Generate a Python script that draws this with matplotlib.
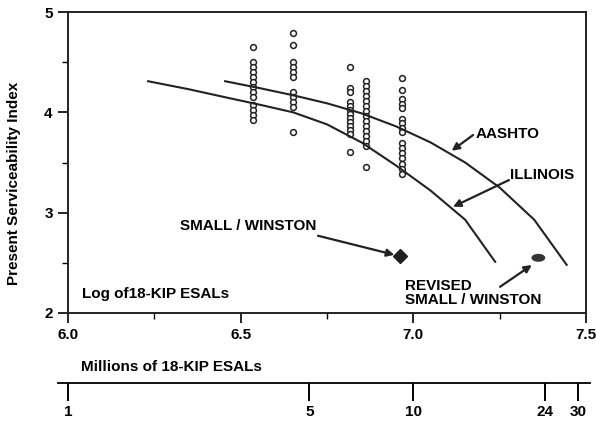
import matplotlib as m
m.use("Agg")
import matplotlib.pyplot as plt
from matplotlib.patches import Ellipse

plt.rcParams['font.family'] = ['Liberation Sans', 'DejaVu Sans']
plt.rcParams['font.weight'] = 'bold'
plt.rcParams['axes.labelweight'] = 'bold'
plt.rcParams['font.size'] = 11

# log10 of 18-KIP ESALs for each column of field measurements
col_x = [6.536, 6.652, 6.817, 6.864, 6.968]
col_psi = [
    [4.65, 4.50, 4.45, 4.40, 4.35, 4.30, 4.25, 4.20, 4.15, 4.07, 4.02, 3.97, 3.92],
    [4.79, 4.67, 4.50, 4.45, 4.40, 4.35, 4.20, 4.15, 4.10, 4.05, 3.80],
    [4.45, 4.24, 4.20, 4.10, 4.06, 4.02, 3.98, 3.94, 3.90, 3.86, 3.82, 3.78, 3.60],
    [4.31, 4.26, 4.21, 4.16, 4.11, 4.06, 4.01, 3.96, 3.91, 3.86, 3.81, 3.76,
     3.71, 3.66, 3.46],
    [4.34, 4.22, 4.13, 4.08, 4.04, 3.93, 3.89, 3.84, 3.80, 3.69, 3.64, 3.59,
     3.54, 3.49, 3.44, 3.39],
]

aashto_x = [6.455, 6.55, 6.652, 6.75, 6.85, 6.95, 7.05, 7.15, 7.25, 7.35, 7.444]
aashto_y = [4.31, 4.245, 4.17, 4.09, 3.99, 3.86, 3.70, 3.50, 3.25, 2.93, 2.48]

illinois_x = [6.232, 6.35, 6.469, 6.55, 6.652, 6.75, 6.85, 6.95, 7.05, 7.15, 7.237]
illinois_y = [4.31, 4.23, 4.14, 4.08, 4.00, 3.88, 3.70, 3.47, 3.22, 2.93, 2.51]

small_winston = (6.961, 2.567)
revised_sw = (7.362, 2.55)

esal_ticks = [1, 5, 10, 24, 30]   # millions

fig = plt.figure(figsize=(5.96, 4.23), dpi=100)
ax = fig.add_axes([68 / 596, 1 - 313 / 423, 518 / 596, 301 / 423])

for x, ys in zip(col_x, col_psi):
    ax.plot([x] * len(ys), ys, 'o', mfc='white', mec='#222222', ms=4.2, mew=1.1,
            linestyle='none', zorder=2)

ax.plot(aashto_x, aashto_y, color='#222222', lw=1.5, zorder=3, solid_joinstyle='round')
ax.plot(illinois_x, illinois_y, color='#222222', lw=1.5, zorder=3, solid_joinstyle='round')

ax.plot(*small_winston, 'D', color='#222222', ms=7, zorder=4)
ax.add_patch(Ellipse(revised_sw, 0.036, 0.065, color='#333333', zorder=4))

arrow = dict(arrowstyle='-|>', color='#222222', lw=1.6, mutation_scale=11,
             shrinkA=0, shrinkB=0)
ax.annotate('', xy=(6.945, 2.58), xytext=(6.724, 2.77), arrowprops=arrow)
ax.text(6.324, 2.866, 'SMALL / WINSTON', va='center', ha='left')
ax.annotate('', xy=(7.111, 3.617), xytext=(7.173, 3.774), arrowprops=arrow)
ax.text(7.179, 3.784, 'AASHTO', va='center', ha='left')
ax.annotate('', xy=(7.115, 3.059), xytext=(7.277, 3.325), arrowprops=arrow)
ax.text(7.280, 3.375, 'ILLINOIS', va='center', ha='left')
ax.annotate('', xy=(7.343, 2.478), xytext=(7.251, 2.261), arrowprops=arrow)
ax.text(6.976, 2.20, 'REVISED\nSMALL / WINSTON', va='center', ha='left',
        linespacing=0.95)
ax.text(6.041, 2.189, 'Log of18-KIP ESALs', va='center', ha='left')

ax.set_xlim(6.0, 7.5)
ax.set_ylim(2, 5)
ax.set_xticks([6.0, 6.5, 7.0, 7.5])
ax.set_xticklabels(['6.0', '6.5', '7.0', '7.5'])
ax.set_xticks([6.25, 6.75, 7.25], minor=True)
ax.set_yticks([2, 3, 4, 5])
ax.set_yticks([2.5, 3.5, 4.5], minor=True)
ax.tick_params(which='major', length=7, width=1.2, pad=4)
ax.tick_params(which='minor', length=4, width=1.0)
for s in ax.spines.values():
    s.set_linewidth(1.4)
    s.set_color('#222222')
ax.set_ylabel('Present Serviceability Index')
ax.yaxis.set_label_coords(-0.09, 0.43)

# secondary scale: millions of ESALs, drawn as a bare axis
lo = 10 ** ((58 - 68) / 345.3)
hi = 10 ** ((590 - 68) / 345.3)
ax2 = fig.add_axes([58 / 596, 1 - 383 / 423, 532 / 596, 0.0001])
ax2.set_xscale('log')
ax2.set_xlim(lo, hi)
ax2.set_xticks(esal_ticks)
ax2.set_xticklabels([str(t) for t in esal_ticks])
ax2.xaxis.set_minor_locator(plt.NullLocator())
ax2.set_yticks([])
for k in ['top', 'left', 'right']:
    ax2.spines[k].set_visible(False)
ax2.spines['bottom'].set_linewidth(1.3)
ax2.tick_params(axis='x', length=13, width=1.4, pad=3)
fig.text(81 / 596, 1 - 367 / 423, 'Millions of 18-KIP ESALs', va='center', ha='left')

plt.savefig('out.png', dpi=100)
